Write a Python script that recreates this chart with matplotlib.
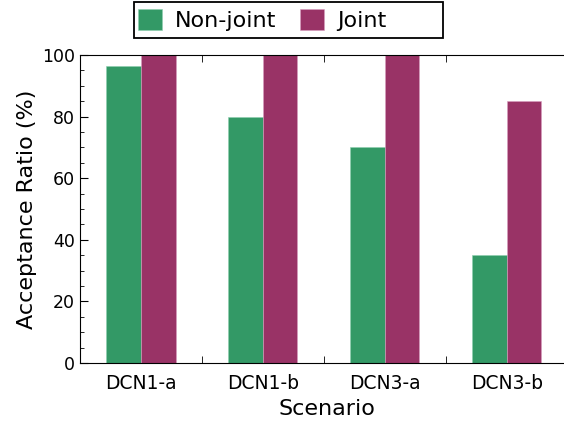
import numpy as np
from matplotlib import pyplot as plt
from matplotlib.patches import Rectangle

# acceptance ratio per scenario
scenarios = ["DCN1-a", "DCN1-b", "DCN3-a", "DCN3-b"]
non_joint = [96.5, 80, 70, 35]
joint = [100, 100, 100, 85]

W, H = 564, 423
fig = plt.figure(figsize=(W / 100, H / 100), dpi=100)
# axes runs a little past the right edge, like the cropped original
ax = fig.add_axes([80 / W, 1 - 363 / H, 494 / W, 308 / H])

x = np.arange(len(scenarios))
w = 0.283
ax.bar(x - w / 2, non_joint, w, color="#339966", edgecolor="#8fcfaf", linewidth=0.4, label="Non-joint")
ax.bar(x + w / 2, joint, w, color="#993366", edgecolor="#d99fbf", linewidth=0.4, label="Joint")

ax.set_xlim(-0.5, 3.55)
ax.set_ylim(0, 100)
ax.spines["right"].set_visible(False)
ax.set_xticks(x)
ax.set_xticklabels(scenarios, fontsize=13.5)
ax.set_xticks(x[:-1] + 0.5, minor=True)
ax.set_yticks(np.arange(0, 101, 20))
ax.set_yticks(np.arange(0, 101, 5), minor=True)
ax.tick_params(axis="x", which="major", length=0, pad=8)
ax.tick_params(axis="x", which="minor", direction="in", length=5, top=True, bottom=True)
ax.tick_params(axis="y", which="major", direction="in", length=6, labelsize=12.5)
ax.tick_params(axis="y", which="minor", direction="in", length=3)
ax.set_xlabel("Scenario", fontsize=16)
ax.set_ylabel("Acceptance Ratio (%)", fontsize=16)

fig.legend(loc="center left", bbox_to_anchor=(138 / W, 1 - 20 / H), ncol=2, fontsize=16,
           frameon=False, handlelength=1.08, handleheight=1.05, handletextpad=0.58,
           borderpad=0, borderaxespad=0, columnspacing=1.08)
# legend box is wider than its entries in the original
fig.patches.append(Rectangle((134 / W, 1 - 38 / H), 309 / W, 36 / H, transform=fig.transFigure,
                             fill=False, edgecolor="black", linewidth=1.3))

plt.savefig("out.png", dpi=100)
